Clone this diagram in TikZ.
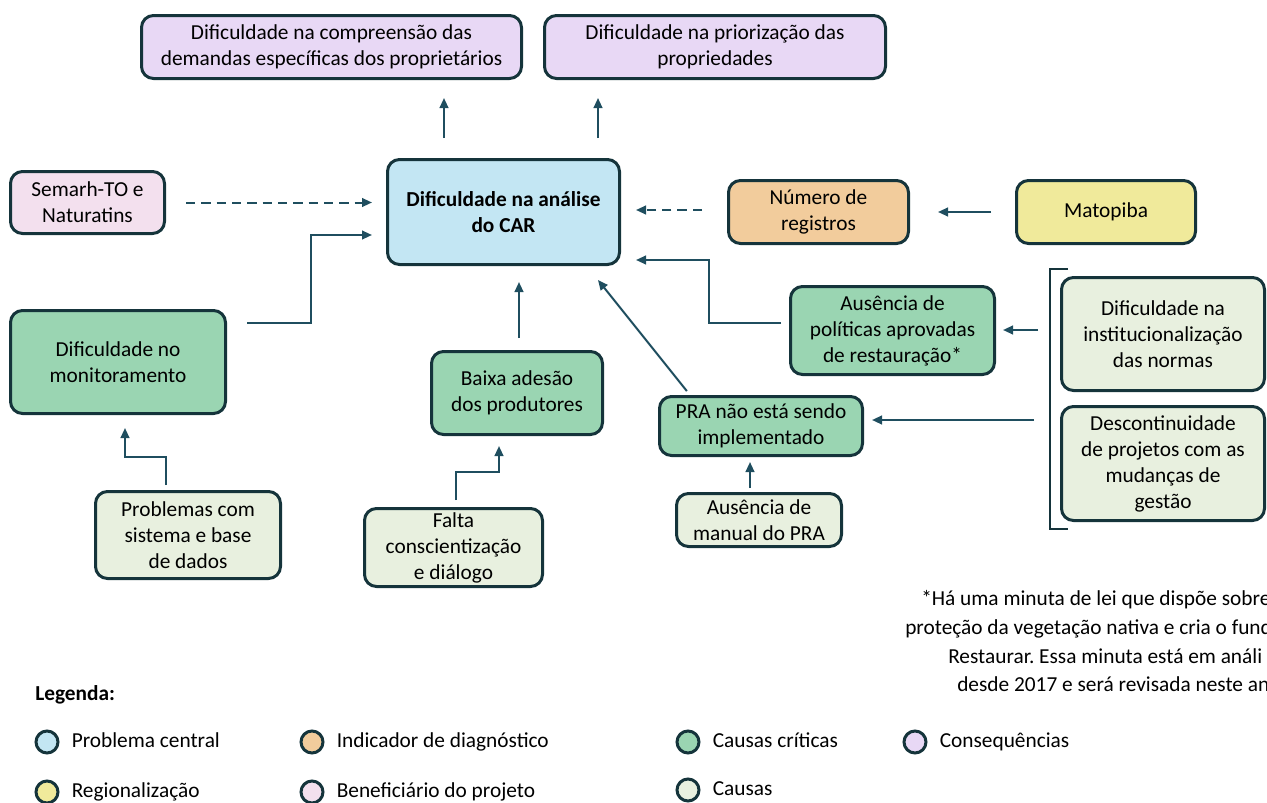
\documentclass[tikz,border=0pt]{standalone}
\usepackage{fontspec}
\setmainfont{Carlito}
\frenchspacing
\usetikzlibrary{shapes,arrows.meta,calc,positioning}
\definecolor{borda}{HTML}{15343B}
\definecolor{setac}{HTML}{1F4E5F}
\definecolor{azul}{HTML}{C3E6F3}
\definecolor{lilas}{HTML}{E8D8F5}
\definecolor{rosa}{HTML}{F3E0EE}
\definecolor{laranja}{HTML}{F2CC9C}
\definecolor{amarelo}{HTML}{F0EA9B}
\definecolor{verde}{HTML}{9AD5B2}
\definecolor{verdeclaro}{HTML}{E8F0DF}
\tikzstyle{rec} = [rectangle,rounded corners=9pt,draw=borda,line width=2.25pt,align=center,inner sep=2pt,text=black,font=\fontsize{16}{19.5}\selectfont]

\begin{document}
\begin{tikzpicture}
		[
		x=0.75pt,y=-0.75pt,
		box/.style 2 args={
		rec,
		minimum width=#1*0.75pt-2.25pt,
		minimum height=#2*0.75pt-2.25pt},
		seta/.style={draw=setac,line width=1.5pt,-{Triangle[length=7.5pt,width=6.5pt]}},
		tracejada/.style={seta,dash pattern=on 7pt off 4.5pt},
		dot/.style={circle,draw=borda,line width=2.25pt,minimum size=16.5pt,inner sep=0pt},
		legtxt/.style={inner sep=0pt,text height=11pt,text depth=3.5pt,font=\fontsize{16}{19.5}\selectfont},
		nota/.style={inner sep=0pt,font=\fontsize{16}{19.5}\selectfont}
		]
		\clip (0,0) rectangle (1267,803);
		\node[box={383}{66},fill=lilas] (conseq_compreensao) at (331.5,47) {Dificuldade na compreensão das\\demandas específicas dos proprietários};
		\node[box={344}{66},fill=lilas] (conseq_priorizacao) at (715,47) {Dificuldade na priorização das\\propriedades};
		\node[box={235}{108},fill=azul,font=\fontsize{16}{19.5}\selectfont\bfseries] (central) at (503.5,212) {Dificuldade na análise\\do CAR};
		\node[box={157}{65},fill=rosa] (semarh) at (87.5,202.5) {Semarh-TO e\\Naturatins};
		\node[box={183}{66},fill=laranja] (num_registros) at (818.5,212) {Número de\\registros};
		\node[box={182}{66},fill=amarelo] (matopiba) at (1106,212) {Matopiba};
		\node[box={218}{106},fill=verde] (monitoramento) at (118,362) {Dificuldade no\\monitoramento};
		\node[box={188}{90},fill=verdeclaro] (problemas_sistema) at (188,535) {Problemas com\\sistema e base\\de dados};
		\node[box={174}{86},fill=verde] (baixa_adesao) at (517,393) {Baixa adesão\\dos produtores};
		\node[box={181}{81},fill=verdeclaro] (falta_dialogo) at (453.5,547.5) {Falta\\conscientização\\e diálogo};
		\node[box={206}{62},fill=verde] (pra) at (761,426) {PRA não está sendo\\implementado};
		\node[box={168}{56},fill=verdeclaro] (manual_pra) at (759,520) {Ausência de\\manual do PRA};
		\node[box={207}{91},fill=verde] (politicas) at (892.5,330.5) {Ausência de\\políticas aprovadas\\de restauração*};
		\node[box={206}{116},fill=verdeclaro] (normas) at (1163,334) {Dificuldade na\\institucionalização\\das normas};
		\node[box={206}{117},fill=verdeclaro] (descontinuidade) at (1163,463.5) {Descontinuidade\\de projetos com as\\mudanças de\\gestão};

		\draw[borda,line width=1.2pt] ($(normas.north west)+(8,-7)$) -- ($(normas.north west)+(-10,-7)$) -- ($(descontinuidade.south west)+(-10,7)$) -- ($(descontinuidade.south west)+(8,7)$);

		\draw[seta,shorten <=15pt,shorten >=13.5pt] ($(central.north)+(-59.5,0)$) coordinate (c_esq) -- (c_esq |- conseq_compreensao.south);
		\draw[seta,shorten <=15pt,shorten >=13.5pt] ($(central.north)+(94.5,0)$) coordinate (c_dir) -- (c_dir |- conseq_priorizacao.south);
		\draw[tracejada,shorten <=15pt,shorten >=10.5pt] (semarh.east) -- (semarh.east -| central.west);
		\draw[tracejada,shorten <=18.75pt,shorten >=11.25pt] ($(num_registros.west)+(0,-2)$) coordinate (n_oeste) -- (n_oeste -| central.east);
		\draw[seta,shorten <=18pt,shorten >=21pt] (matopiba.west) -- (num_registros.east);
		\draw[seta,shorten <=15pt,shorten >=10.5pt] ($(monitoramento.east)+(0,-39)$) -| ($(central.west)+(-75,23)$) -- ($(central.west)+(0,23)$);
		\draw[seta,shorten <=3.75pt,shorten >=9.75pt] ($(problemas_sistema.north)+(-22,0)$) |- ($(monitoramento.south)+(7,42)$) -- ($(monitoramento.south)+(7,0)$);
		\draw[seta,shorten <=9pt,shorten >=12pt] ($(baixa_adesao.north)+(2,0)$) coordinate (b_norte) -- (b_norte |- central.south);
		\draw[seta,shorten <=5.25pt,shorten >=7.5pt] ($(falta_dialogo.north)+(2.5,0)$) |- ($(baixa_adesao.south)+(-18,36)$) -- ($(baixa_adesao.south)+(-18,0)$);
		\draw[seta,shorten <=3.75pt] ($(pra.north west)+(32,0)$) -- ($(central.south east)+(-23,14)$);
		\draw[seta,shorten <=3pt,shorten >=3.75pt] ($(manual_pra.north)+(-9,0)$) coordinate (m_norte) -- (m_norte |- pra.south);
		\draw[seta,shorten <=6pt,shorten >=11.25pt] ($(politicas.west)+(0,-7.5)$) -| ($(central.east)+(88,48)$) -- ($(central.east)+(0,48)$);
		\draw[seta,shorten <=16.5pt,shorten >=5.25pt] ($(normas.west)+(0,-4)$) -- ($(politicas.east)+(0,-0.5)$);
		\draw[seta,shorten <=19.5pt,shorten >=6pt] ($(descontinuidade.west)+(0,-43.5)$) coordinate (d_oeste) -- (d_oeste -| pra.east);

		\node[nota,anchor=base west] (nota_1) at (921,605) {*Há uma minuta de lei que dispõe sobre};
		\node[nota,anchor=base west] (nota_2) at (905,634) {proteção da vegetação nativa e cria o fund};
		\node[nota,anchor=base west] (nota_3) at (948,663) {Restaurar. Essa minuta está em análi};
		\node[nota,anchor=base west] (nota_4) at (957,691) {desde 2017 e será revisada neste an};

		\node[legtxt,anchor=base west,font=\fontsize{16}{19.5}\selectfont\bfseries] (legenda) at (35,700) {Legenda:};
		\node[dot,fill=azul] (leg_central) at (47,742) {};
		\node[legtxt,right=9pt of leg_central] {Problema central};
		\node[dot,fill=laranja] (leg_indicador) at (312,742) {};
		\node[legtxt,right=9pt of leg_indicador] {Indicador de diagnóstico};
		\node[dot,fill=verde] (leg_criticas) at (688,742) {};
		\node[legtxt,right=9pt of leg_criticas] {Causas críticas};
		\node[dot,fill=lilas] (leg_consequencias) at (915,742) {};
		\node[legtxt,right=9pt of leg_consequencias] {Consequências};
		\node[dot,fill=amarelo] (leg_regiao) at (47,792) {};
		\node[legtxt,right=9pt of leg_regiao] {Regionalização};
		\node[dot,fill=rosa] (leg_beneficiario) at (312,792) {};
		\node[legtxt,right=9pt of leg_beneficiario] {Beneficiário do projeto};
		\node[dot,fill=verdeclaro] (leg_causas) at (688,790) {};
		\node[legtxt,right=9pt of leg_causas] {Causas};
		\end{tikzpicture}
\end{document}
